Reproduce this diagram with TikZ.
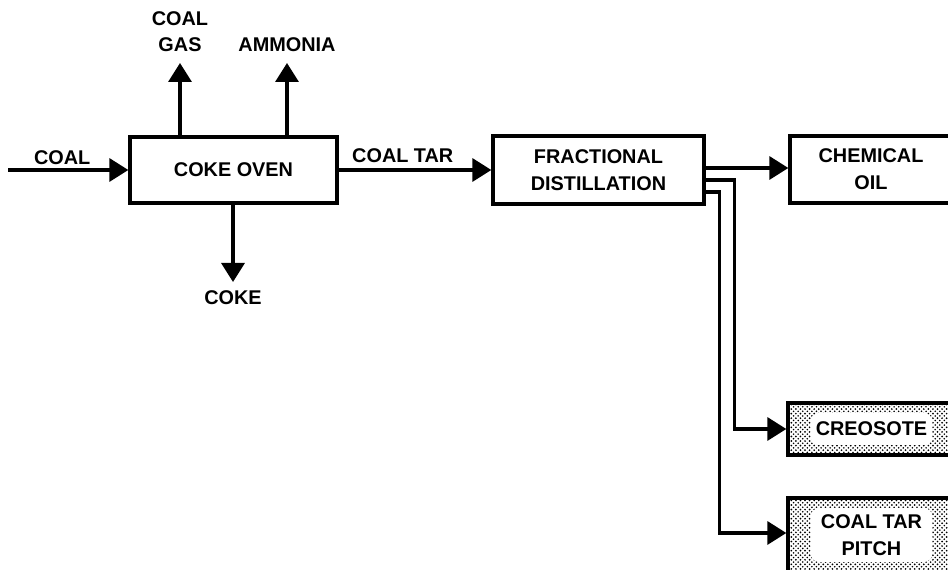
\documentclass[tikz,border=0pt]{standalone}
\usepackage{fontspec}
\setmainfont{Liberation Sans}
\usetikzlibrary{arrows.meta,positioning,patterns}
\pgfdeclarepatternformonly{grain}{\pgfqpoint{-1pt}{-1pt}}{\pgfqpoint{3.6pt}{3.6pt}}{\pgfqpoint{2.6pt}{2.6pt}}{%
  \pgfpathcircle{\pgfqpoint{0.6pt}{0.6pt}}{0.55pt}%
  \pgfpathcircle{\pgfqpoint{1.9pt}{1.9pt}}{0.5pt}%
  \pgfusepath{fill}}

\begin{document}
\begin{tikzpicture}[
    x=0.02cm, y=-0.02cm,
    font=\bfseries\fontsize{11.3}{15.3}\selectfont,
    unit/.style={draw, line width=1.9pt, align=center, inner sep=0pt},
    dotbox/.style={unit, pattern=grain,
      path picture={\fill[white, rounded corners=5pt]
        ([shift={(0.45cm,0.2cm)}]path picture bounding box.south west) rectangle
        ([shift={(-0.45cm,-0.2cm)}]path picture bounding box.north east);}},
    flow/.style={line width=1.9pt, -{Triangle[length=0.38cm, width=0.46cm]}},
    lbl/.style={inner sep=0pt, align=center},
  ]
  \useasboundingbox (0,0) rectangle (948,570);
  \clip (0,0) rectangle (948,570);

  % --- process units -------------------------------------------------------
  \node[unit, minimum width=4.14cm, minimum height=1.32cm] (oven) at (233.5,170) {COKE OVEN};
  \node[unit, minimum width=4.22cm, minimum height=1.36cm] (frac) at (598.5,170) {FRACTIONAL\\DISTILLATION};
  \node[unit, minimum width=3.24cm, minimum height=1.34cm] (chem) at (871,169.5) {CHEMICAL\\OIL};
  \node[dotbox, minimum width=3.34cm, minimum height=1.04cm] (creo) at (871.5,429) {CREOSOTE};
  \node[dotbox, minimum width=3.34cm, minimum height=1.48cm] (pitch) at (871.5,535) {COAL TAR\\PITCH};

  % --- free ends of the oven streams ---------------------------------------
  \coordinate (coalin) at (8,170);
  \coordinate (gastip) at (180,63);
  \coordinate (nh3tip) at (287,63);
  \coordinate (coketip) at (233,282);
  \node[lbl, above=6pt of gastip] (gas) {COAL\\GAS};
  \node[lbl, above=6pt of nh3tip] (nh3) {AMMONIA};
  \node[lbl, below=4.5pt of coketip] (coke) {COKE};

  % --- streams ---------------------------------------------------------------
  \draw[flow] (coalin) -- (oven.west) node[lbl, above=2pt, pos=0.45] (coal) {COAL};
  \draw[flow] (oven.north -| gastip) -- (gastip);
  \draw[flow] (oven.north -| nh3tip) -- (nh3tip);
  \draw[flow] (oven.south -| coketip) -- (coketip);
  \draw[flow] (oven) -- (frac) node[lbl, above=3pt, pos=0.42] (tar) {COAL TAR};
  \draw[flow] ([shift={(0,-2)}]frac.east) -- ([shift={(0,-1.5)}]chem.west);
  \draw[flow] ([shift={(0,10)}]frac.east) -| ([shift={(-52,0)}]creo.west) -- (creo.west);
  \draw[flow] ([shift={(0,22)}]frac.east) -| ([shift={(-67,-2)}]pitch.west) -- ([shift={(0,-2)}]pitch.west);

\end{tikzpicture}
\end{document}
